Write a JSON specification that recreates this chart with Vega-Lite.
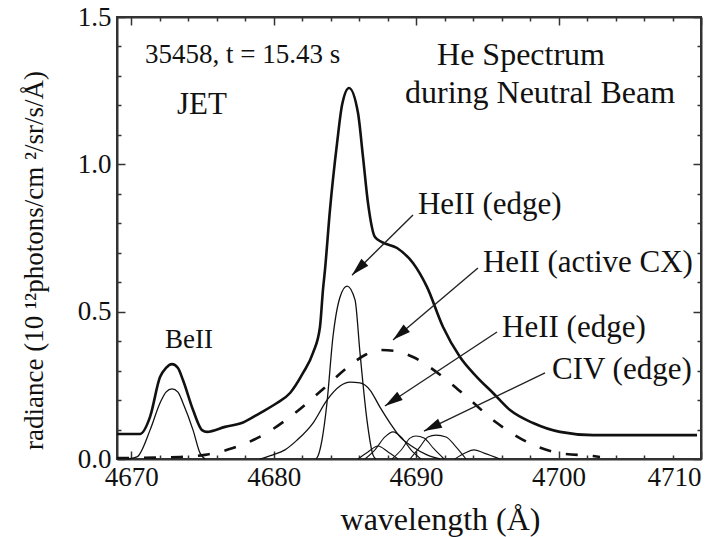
{
  "$schema": "https://vega.github.io/schema/vega-lite/v6.json",
  "width": 584,
  "height": 442,
  "autosize": {"type": "none"},
  "padding": {"left": 117, "top": 17, "right": 24, "bottom": 78},
  "background": "white",
  "config": {
    "view": {"stroke": "#333", "strokeWidth": 2},
    "font": "Liberation Serif",
    "axis": {"grid": false, "domainColor": "#333", "domainWidth": 2, "tickColor": "#333", "tickWidth": 1.5, "labelFont": "Liberation Serif", "titleFont": "Liberation Serif", "labelColor": "#111", "titleColor": "#111", "titleFontWeight": "normal"}
  },
  "datasets": {
    "curves": [
      {"series": "total", "x": 4669.00, "y": 0.085},
      {"series": "total", "x": 4670.61, "y": 0.085},
      {"series": "total", "x": 4671.32, "y": 0.143},
      {"series": "total", "x": 4672.02, "y": 0.278},
      {"series": "total", "x": 4672.44, "y": 0.309},
      {"series": "total", "x": 4672.86, "y": 0.322},
      {"series": "total", "x": 4673.28, "y": 0.309},
      {"series": "total", "x": 4673.63, "y": 0.268},
      {"series": "total", "x": 4674.34, "y": 0.166},
      {"series": "total", "x": 4674.97, "y": 0.098},
      {"series": "total", "x": 4675.32, "y": 0.092},
      {"series": "total", "x": 4676.58, "y": 0.109},
      {"series": "total", "x": 4677.85, "y": 0.124},
      {"series": "total", "x": 4679.04, "y": 0.156},
      {"series": "total", "x": 4680.23, "y": 0.190},
      {"series": "total", "x": 4681.15, "y": 0.224},
      {"series": "total", "x": 4682.06, "y": 0.292},
      {"series": "total", "x": 4682.76, "y": 0.360},
      {"series": "total", "x": 4683.25, "y": 0.448},
      {"series": "total", "x": 4683.46, "y": 0.574},
      {"series": "total", "x": 4683.60, "y": 0.641},
      {"series": "total", "x": 4683.95, "y": 0.845},
      {"series": "total", "x": 4684.45, "y": 1.072},
      {"series": "total", "x": 4684.80, "y": 1.201},
      {"series": "total", "x": 4685.29, "y": 1.259},
      {"series": "total", "x": 4685.92, "y": 1.174},
      {"series": "total", "x": 4686.27, "y": 1.025},
      {"series": "total", "x": 4686.62, "y": 0.869},
      {"series": "total", "x": 4687.11, "y": 0.753},
      {"series": "total", "x": 4687.60, "y": 0.736},
      {"series": "total", "x": 4688.66, "y": 0.716},
      {"series": "total", "x": 4689.78, "y": 0.665},
      {"series": "total", "x": 4690.76, "y": 0.584},
      {"series": "total", "x": 4691.89, "y": 0.448},
      {"series": "total", "x": 4693.08, "y": 0.346},
      {"series": "total", "x": 4694.27, "y": 0.278},
      {"series": "total", "x": 4695.40, "y": 0.224},
      {"series": "total", "x": 4696.59, "y": 0.166},
      {"series": "total", "x": 4698.21, "y": 0.122},
      {"series": "total", "x": 4700.10, "y": 0.092},
      {"series": "total", "x": 4702.42, "y": 0.081},
      {"series": "total", "x": 4704.80, "y": 0.081},
      {"series": "total", "x": 4709.72, "y": 0.081},

      {"series": "BeII", "x": 4669.70, "y": 0},
      {"series": "BeII", "x": 4670.40, "y": 0.007},
      {"series": "BeII", "x": 4671.32, "y": 0.098},
      {"series": "BeII", "x": 4672.02, "y": 0.190},
      {"series": "BeII", "x": 4672.44, "y": 0.227},
      {"series": "BeII", "x": 4672.86, "y": 0.238},
      {"series": "BeII", "x": 4673.28, "y": 0.227},
      {"series": "BeII", "x": 4673.63, "y": 0.190},
      {"series": "BeII", "x": 4674.34, "y": 0.098},
      {"series": "BeII", "x": 4674.83, "y": 0.020},
      {"series": "BeII", "x": 4675.18, "y": 0},

      {"series": "HeII edge narrow", "x": 4682.97, "y": 0},
      {"series": "HeII edge narrow", "x": 4683.11, "y": 0.010},
      {"series": "HeII edge narrow", "x": 4683.39, "y": 0.064},
      {"series": "HeII edge narrow", "x": 4683.74, "y": 0.190},
      {"series": "HeII edge narrow", "x": 4684.16, "y": 0.414},
      {"series": "HeII edge narrow", "x": 4684.66, "y": 0.550},
      {"series": "HeII edge narrow", "x": 4685.15, "y": 0.587},
      {"series": "HeII edge narrow", "x": 4685.71, "y": 0.540},
      {"series": "HeII edge narrow", "x": 4686.06, "y": 0.360},
      {"series": "HeII edge narrow", "x": 4686.55, "y": 0.132},
      {"series": "HeII edge narrow", "x": 4686.97, "y": 0.014},
      {"series": "HeII edge narrow", "x": 4687.18, "y": 0},

      {"series": "HeII edge broad", "x": 4679.04, "y": 0},
      {"series": "HeII edge broad", "x": 4679.95, "y": 0.014},
      {"series": "HeII edge broad", "x": 4680.79, "y": 0.031},
      {"series": "HeII edge broad", "x": 4681.64, "y": 0.064},
      {"series": "HeII edge broad", "x": 4682.76, "y": 0.122},
      {"series": "HeII edge broad", "x": 4683.74, "y": 0.200},
      {"series": "HeII edge broad", "x": 4684.66, "y": 0.248},
      {"series": "HeII edge broad", "x": 4685.36, "y": 0.261},
      {"series": "HeII edge broad", "x": 4686.06, "y": 0.258},
      {"series": "HeII edge broad", "x": 4686.76, "y": 0.234},
      {"series": "HeII edge broad", "x": 4687.46, "y": 0.176},
      {"series": "HeII edge broad", "x": 4688.17, "y": 0.122},
      {"series": "HeII edge broad", "x": 4688.87, "y": 0.075},
      {"series": "HeII edge broad", "x": 4689.78, "y": 0.041},
      {"series": "HeII edge broad", "x": 4690.76, "y": 0.014},
      {"series": "HeII edge broad", "x": 4691.68, "y": 0},

      {"series": "HeII active CX", "x": 4669.00, "y": 0.003},
      {"series": "HeII active CX", "x": 4673.42, "y": 0.007},
      {"series": "HeII active CX", "x": 4675.18, "y": 0.014},
      {"series": "HeII active CX", "x": 4677.14, "y": 0.037},
      {"series": "HeII active CX", "x": 4679.25, "y": 0.081},
      {"series": "HeII active CX", "x": 4681.50, "y": 0.156},
      {"series": "HeII active CX", "x": 4683.39, "y": 0.234},
      {"series": "HeII active CX", "x": 4685.22, "y": 0.312},
      {"series": "HeII active CX", "x": 4686.41, "y": 0.353},
      {"series": "HeII active CX", "x": 4687.46, "y": 0.370},
      {"series": "HeII active CX", "x": 4688.52, "y": 0.367},
      {"series": "HeII active CX", "x": 4689.78, "y": 0.346},
      {"series": "HeII active CX", "x": 4691.89, "y": 0.278},
      {"series": "HeII active CX", "x": 4693.57, "y": 0.210},
      {"series": "HeII active CX", "x": 4695.68, "y": 0.122},
      {"series": "HeII active CX", "x": 4697.78, "y": 0.058},
      {"series": "HeII active CX", "x": 4700.10, "y": 0.020},
      {"series": "HeII active CX", "x": 4702.42, "y": 0.010},
      {"series": "HeII active CX", "x": 4702.91, "y": 0.007},

      {"series": "small 1", "x": 4686.41, "y": 0},
      {"series": "small 1", "x": 4687.11, "y": 0.031},
      {"series": "small 1", "x": 4687.81, "y": 0.075},
      {"series": "small 1", "x": 4688.38, "y": 0.092},
      {"series": "small 1", "x": 4688.94, "y": 0.075},
      {"series": "small 1", "x": 4689.64, "y": 0.031},
      {"series": "small 1", "x": 4690.34, "y": 0},
      {"series": "small 2", "x": 4685.92, "y": 0},
      {"series": "small 2", "x": 4686.62, "y": 0.024},
      {"series": "small 2", "x": 4687.32, "y": 0.044},
      {"series": "small 2", "x": 4688.03, "y": 0.024},
      {"series": "small 2", "x": 4688.73, "y": 0},
      {"series": "small 3", "x": 4688.31, "y": 0},
      {"series": "small 3", "x": 4689.01, "y": 0.034},
      {"series": "small 3", "x": 4689.57, "y": 0.071},
      {"series": "small 3", "x": 4689.99, "y": 0.078},
      {"series": "small 3", "x": 4690.55, "y": 0.071},
      {"series": "small 3", "x": 4691.26, "y": 0.034},
      {"series": "small 3", "x": 4691.96, "y": 0},
      {"series": "small 4", "x": 4689.57, "y": 0},
      {"series": "small 4", "x": 4690.27, "y": 0.041},
      {"series": "small 4", "x": 4690.83, "y": 0.075},
      {"series": "small 4", "x": 4691.40, "y": 0.081},
      {"series": "small 4", "x": 4692.10, "y": 0.075},
      {"series": "small 4", "x": 4692.80, "y": 0.041},
      {"series": "small 4", "x": 4693.50, "y": 0},
      {"series": "small 5", "x": 4692.73, "y": 0},
      {"series": "small 5", "x": 4693.43, "y": 0.020},
      {"series": "small 5", "x": 4694.06, "y": 0.031},
      {"series": "small 5", "x": 4694.77, "y": 0.020},
      {"series": "small 5", "x": 4695.89, "y": 0}
    ],
    "arrows": [
      {"id": "a1", "x": 4689.78, "y": 0.828, "x2": 4685.50, "y2": 0.624, "hx": 4685.95, "hy": 0.646},
      {"id": "a2", "x": 4694.34, "y": 0.648, "x2": 4688.38, "y2": 0.404, "hx": 4688.86, "hy": 0.424},
      {"id": "a3", "x": 4695.68, "y": 0.431, "x2": 4687.81, "y2": 0.180, "hx": 4688.34, "hy": 0.197},
      {"id": "a4", "x": 4699.05, "y": 0.292, "x2": 4690.55, "y2": 0.095, "hx": 4691.12, "hy": 0.108}
    ],
    "notes": [
      {"text": "35458, t = 15.43 s", "x": 4670.97, "y": 1.371, "role": "shot"},
      {"text": "JET", "x": 4673.21, "y": 1.201, "role": "tag"},
      {"text": "He Spectrum", "x": 4691.47, "y": 1.371, "role": "title"},
      {"text": "during Neutral Beam", "x": 4689.22, "y": 1.242, "role": "title"},
      {"text": "HeII (edge)", "x": 4690.13, "y": 0.862, "role": "line"},
      {"text": "HeII (active CX)", "x": 4694.69, "y": 0.665, "role": "line"},
      {"text": "HeII (edge)", "x": 4696.03, "y": 0.445, "role": "line"},
      {"text": "CIV (edge)", "x": 4699.54, "y": 0.302, "role": "line"},
      {"text": "BeII", "x": 4672.37, "y": 0.404, "role": "be"}
    ]
  },
  "resolve": {"axis": {"x": "independent", "y": "independent"}},
  "layer": [
    {
      "data": {"name": "curves"},
      "transform": [{"filter": "datum.series == 'total'"}],
      "mark": {"type": "line", "color": "#111", "strokeWidth": 2.6, "interpolate": "monotone"},
      "encoding": {
        "x": {"field": "x", "type": "quantitative", "scale": {"domain": [4669, 4710], "nice": false, "zero": false},
          "axis": {"orient": "bottom", "values": [4670, 4680, 4690, 4700, 4710], "format": "d", "tickSize": -8, "labelFontSize": 27, "labelPadding": 13, "title": "wavelength (Å)", "titleFontSize": 32, "titleX": 323, "titleY": 60, "titleBaseline": "middle", "titleAlign": "center"}},
        "y": {"field": "y", "type": "quantitative", "scale": {"domain": [0, 1.5], "nice": false, "zero": false},
          "axis": {"orient": "left", "values": [0, 0.5, 1, 1.5], "format": ".1f", "tickSize": -8, "labelFontSize": 27, "labelPadding": 14, "title": "radiance (10 ¹²photons/cm ²/sr/s/Å)", "titleFontSize": 27, "titleX": -83, "titleY": 243, "titleAngle": -90, "titleBaseline": "middle", "titleAlign": "center"}}
      }
    },
    {
      "data": {"name": "curves"},
      "transform": [{"filter": "datum.series == 'BeII'"}],
      "mark": {"type": "line", "color": "#111", "strokeWidth": 1.3, "interpolate": "monotone"},
      "encoding": {
        "x": {"field": "x", "type": "quantitative", "scale": {"domain": [4669, 4710], "nice": false, "zero": false},
          "axis": {"orient": "top", "values": [4670, 4680, 4690, 4700, 4710], "tickSize": -8, "labels": false, "title": null}},
        "y": {"field": "y", "type": "quantitative", "scale": {"domain": [0, 1.5], "nice": false, "zero": false},
          "axis": {"orient": "right", "values": [0, 0.5, 1, 1.5], "tickSize": -8, "labels": false, "title": null}}
      }
    },
    {
      "data": {"name": "curves"},
      "transform": [{"filter": "datum.series == 'HeII edge narrow'"}],
      "mark": {"type": "line", "color": "#111", "strokeWidth": 1.3, "interpolate": "monotone"},
      "encoding": {
        "x": {"field": "x", "type": "quantitative", "scale": {"domain": [4669, 4710], "nice": false, "zero": false},
          "axis": {"orient": "bottom", "values": [4672, 4674, 4676, 4678, 4682, 4684, 4686, 4688, 4692, 4694, 4696, 4698, 4702, 4704, 4706, 4708], "tickSize": -4, "labels": false, "title": null, "domain": false}},
        "y": {"field": "y", "type": "quantitative", "scale": {"domain": [0, 1.5], "nice": false, "zero": false},
          "axis": {"orient": "left", "values": [0.1, 0.2, 0.3, 0.4, 0.6, 0.7, 0.8, 0.9, 1.1, 1.2, 1.3, 1.4], "tickSize": -4, "labels": false, "title": null, "domain": false}}
      }
    },
    {
      "data": {"name": "curves"},
      "transform": [{"filter": "datum.series == 'HeII edge broad'"}],
      "mark": {"type": "line", "color": "#111", "strokeWidth": 1.3, "interpolate": "monotone"},
      "encoding": {
        "x": {"field": "x", "type": "quantitative", "scale": {"domain": [4669, 4710], "nice": false, "zero": false},
          "axis": {"orient": "top", "values": [4672, 4674, 4676, 4678, 4682, 4684, 4686, 4688, 4692, 4694, 4696, 4698, 4702, 4704, 4706, 4708], "tickSize": -4, "labels": false, "title": null, "domain": false}},
        "y": {"field": "y", "type": "quantitative", "scale": {"domain": [0, 1.5], "nice": false, "zero": false},
          "axis": {"orient": "right", "values": [0.1, 0.2, 0.3, 0.4, 0.6, 0.7, 0.8, 0.9, 1.1, 1.2, 1.3, 1.4], "tickSize": -4, "labels": false, "title": null, "domain": false}}
      }
    },
    {
      "data": {"name": "curves"},
      "transform": [{"filter": "indexof(datum.series, 'small') == 0"}],
      "mark": {"type": "line", "color": "#111", "strokeWidth": 1.1, "interpolate": "monotone"},
      "encoding": {
        "x": {"field": "x", "type": "quantitative", "scale": {"domain": [4669, 4710], "nice": false, "zero": false}, "axis": null},
        "y": {"field": "y", "type": "quantitative", "scale": {"domain": [0, 1.5], "nice": false, "zero": false}, "axis": null},
        "detail": {"field": "series", "type": "nominal"}
      }
    },
    {
      "data": {"name": "curves"},
      "transform": [{"filter": "datum.series == 'HeII active CX'"}],
      "mark": {"type": "line", "color": "#111", "strokeWidth": 2.6, "strokeDash": [12, 15], "interpolate": "monotone"},
      "encoding": {
        "x": {"field": "x", "type": "quantitative", "scale": {"domain": [4669, 4710], "nice": false, "zero": false}, "axis": null},
        "y": {"field": "y", "type": "quantitative", "scale": {"domain": [0, 1.5], "nice": false, "zero": false}, "axis": null}
      }
    },
    {
      "data": {"name": "arrows"},
      "mark": {"type": "rule", "color": "#222", "strokeWidth": 1.4},
      "encoding": {
        "x": {"field": "x", "type": "quantitative", "scale": {"domain": [4669, 4710], "nice": false, "zero": false}, "axis": null},
        "y": {"field": "y", "type": "quantitative", "scale": {"domain": [0, 1.5], "nice": false, "zero": false}, "axis": null},
        "x2": {"field": "x2"},
        "y2": {"field": "y2"}
      }
    },
    {
      "data": {"name": "arrows"},
      "transform": [{"filter": "datum.id == 'a1'"}],
      "mark": {"type": "point", "shape": "M0,-1L-0.55,1L0.55,1Z", "filled": true, "color": "#111", "opacity": 1, "size": 324, "angle": 225.5},
      "encoding": {
        "x": {"field": "hx", "type": "quantitative", "scale": {"domain": [4669, 4710], "nice": false, "zero": false}, "axis": null},
        "y": {"field": "hy", "type": "quantitative", "scale": {"domain": [0, 1.5], "nice": false, "zero": false}, "axis": null}
      }
    },
    {
      "data": {"name": "arrows"},
      "transform": [{"filter": "datum.id == 'a2'"}],
      "mark": {"type": "point", "shape": "M0,-1L-0.55,1L0.55,1Z", "filled": true, "color": "#111", "opacity": 1, "size": 324, "angle": 229.8},
      "encoding": {
        "x": {"field": "hx", "type": "quantitative", "scale": {"domain": [4669, 4710], "nice": false, "zero": false}, "axis": null},
        "y": {"field": "hy", "type": "quantitative", "scale": {"domain": [0, 1.5], "nice": false, "zero": false}, "axis": null}
      }
    },
    {
      "data": {"name": "arrows"},
      "transform": [{"filter": "datum.id == 'a3'"}],
      "mark": {"type": "point", "shape": "M0,-1L-0.55,1L0.55,1Z", "filled": true, "color": "#111", "opacity": 1, "size": 324, "angle": 236.5},
      "encoding": {
        "x": {"field": "hx", "type": "quantitative", "scale": {"domain": [4669, 4710], "nice": false, "zero": false}, "axis": null},
        "y": {"field": "hy", "type": "quantitative", "scale": {"domain": [0, 1.5], "nice": false, "zero": false}, "axis": null}
      }
    },
    {
      "data": {"name": "arrows"},
      "transform": [{"filter": "datum.id == 'a4'"}],
      "mark": {"type": "point", "shape": "M0,-1L-0.55,1L0.55,1Z", "filled": true, "color": "#111", "opacity": 1, "size": 324, "angle": 244.4},
      "encoding": {
        "x": {"field": "hx", "type": "quantitative", "scale": {"domain": [4669, 4710], "nice": false, "zero": false}, "axis": null},
        "y": {"field": "hy", "type": "quantitative", "scale": {"domain": [0, 1.5], "nice": false, "zero": false}, "axis": null}
      }
    },
    {
      "data": {"name": "notes"},
      "transform": [{"filter": "datum.role == 'shot'"}],
      "mark": {"type": "text", "font": "Liberation Serif", "fontSize": 27, "align": "left", "baseline": "middle", "color": "#111"},
      "encoding": {
        "x": {"field": "x", "type": "quantitative", "scale": {"domain": [4669, 4710], "nice": false, "zero": false}, "axis": null},
        "y": {"field": "y", "type": "quantitative", "scale": {"domain": [0, 1.5], "nice": false, "zero": false}, "axis": null},
        "text": {"field": "text"}
      }
    },
    {
      "data": {"name": "notes"},
      "transform": [{"filter": "datum.role == 'tag' || datum.role == 'line'"}],
      "mark": {"type": "text", "font": "Liberation Serif", "fontSize": 31, "align": "left", "baseline": "middle", "color": "#111"},
      "encoding": {
        "x": {"field": "x", "type": "quantitative", "scale": {"domain": [4669, 4710], "nice": false, "zero": false}, "axis": null},
        "y": {"field": "y", "type": "quantitative", "scale": {"domain": [0, 1.5], "nice": false, "zero": false}, "axis": null},
        "text": {"field": "text"}
      }
    },
    {
      "data": {"name": "notes"},
      "transform": [{"filter": "datum.role == 'title'"}],
      "mark": {"type": "text", "font": "Liberation Serif", "fontSize": 32, "align": "left", "baseline": "middle", "color": "#111"},
      "encoding": {
        "x": {"field": "x", "type": "quantitative", "scale": {"domain": [4669, 4710], "nice": false, "zero": false}, "axis": null},
        "y": {"field": "y", "type": "quantitative", "scale": {"domain": [0, 1.5], "nice": false, "zero": false}, "axis": null},
        "text": {"field": "text"}
      }
    },
    {
      "data": {"name": "notes"},
      "transform": [{"filter": "datum.role == 'be'"}],
      "mark": {"type": "text", "font": "Liberation Serif", "fontSize": 27, "align": "left", "baseline": "middle", "color": "#111"},
      "encoding": {
        "x": {"field": "x", "type": "quantitative", "scale": {"domain": [4669, 4710], "nice": false, "zero": false}, "axis": null},
        "y": {"field": "y", "type": "quantitative", "scale": {"domain": [0, 1.5], "nice": false, "zero": false}, "axis": null},
        "text": {"field": "text"}
      }
    }
  ]
}
